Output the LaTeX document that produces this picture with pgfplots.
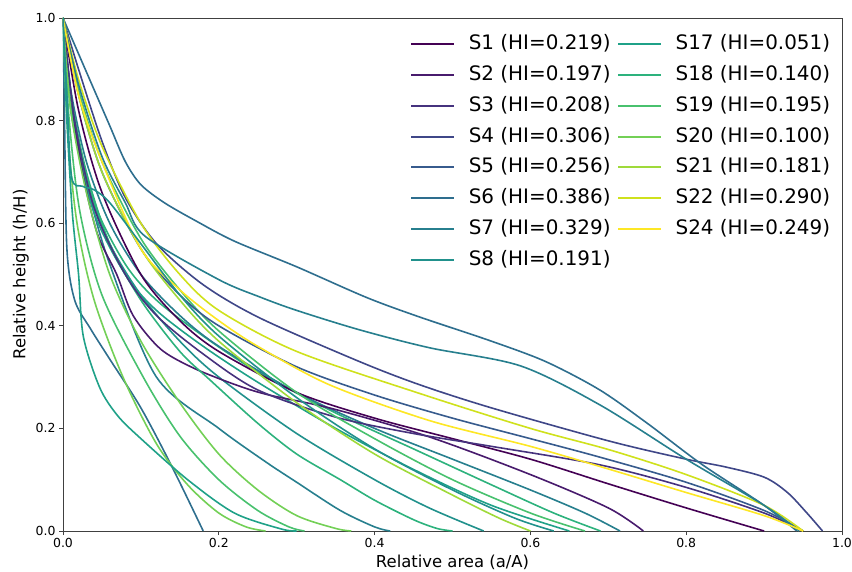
\documentclass[border=0pt]{standalone}
\usepackage{fontspec}
\setmainfont{DejaVu Sans}
\usepackage{pgfplots}
\pgfplotsset{compat=1.18}
\definecolor{c1}{HTML}{440154}
\definecolor{c2}{HTML}{481B6D}
\definecolor{c3}{HTML}{46327E}
\definecolor{c4}{HTML}{3F4788}
\definecolor{c5}{HTML}{375B8D}
\definecolor{c6}{HTML}{2E6E8E}
\definecolor{c7}{HTML}{277F8E}
\definecolor{c8}{HTML}{21918C}
\definecolor{c17}{HTML}{1FA188}
\definecolor{c18}{HTML}{2DB27D}
\definecolor{c19}{HTML}{48C16E}
\definecolor{c20}{HTML}{73D056}
\definecolor{c21}{HTML}{9FDA3A}
\definecolor{c22}{HTML}{CFE11C}
\definecolor{c24}{HTML}{FDE725}
\begin{document}
\begin{tikzpicture}
\begin{axis}[
  at={(0,0)}, anchor=south west,
  scale only axis, width=779bp, height=513bp,
  xmin=0, xmax=1, ymin=0, ymax=1,
  xtick={0,0.2,0.4,0.6,0.8,1.0}, ytick={0,0.2,0.4,0.6,0.8,1.0},
  tick pos=left, tick align=outside, major tick length=4bp,
  /pgf/number format/assume math mode=true,
  xticklabel style={/pgf/number format/fixed,/pgf/number format/fixed zerofill,/pgf/number format/precision=1},
  yticklabel style={/pgf/number format/fixed,/pgf/number format/fixed zerofill,/pgf/number format/precision=1},
  ticklabel style={font=\fontsize{12.5}{15}\selectfont},
  label style={font=\fontsize{16.5}{20}\selectfont},
  xlabel={Relative area (a/A)}, ylabel={Relative height (h/H)},
  axis line style={draw=black!75, line width=0.8bp},
  every tick/.style={black!75, line width=0.8bp},
  legend columns=2,
  legend cell align=left,
  legend style={draw=none, fill=none, at={(0.985,0.967)}, anchor=north east,
    font=\fontsize{20}{24}\selectfont, inner sep=0pt,
    nodes={inner sep=0bp, text height=14.5bp, text depth=3.5bp},
    column sep=15bp, row sep=12.8bp,
    /tikz/every even column/.append style={column sep=7bp}},
  legend image code/.code={\fill[#1, draw=none] (0bp,-1bp) rectangle (43bp,1bp);},
  every axis plot/.append style={line width=1.6bp, smooth, tension=0.5},
]
% unlabeled curves
\addplot[c6, forget plot] coordinates {(0,1)(0.002,0.8)(0.005,0.55)(0.015,0.45)(0.035,0.395)(0.06,0.335)(0.1,0.24)(0.14,0.125)(0.18,0)};
\addplot[c20, forget plot] coordinates {(0,1)(0.006,0.78)(0.018,0.6)(0.04,0.45)(0.077,0.3)(0.12,0.17)(0.16,0.09)(0.2,0.035)(0.235,0.008)(0.26,0)};
\addplot[c19, forget plot] coordinates {(0,1)(0.008,0.8)(0.022,0.62)(0.05,0.46)(0.103,0.3)(0.15,0.185)(0.2,0.1)(0.25,0.04)(0.29,0.008)(0.31,0)};
\addplot[c7, forget plot] coordinates {(0,1)(0.01,0.85)(0.03,0.68)(0.06,0.52)(0.12,0.3)(0.2,0.2)(0.26,0.135)(0.3,0.095)(0.356,0.04)(0.4,0.008)(0.42,0)};
\addplot[c8, forget plot] coordinates {(0,1)(0.01,0.82)(0.03,0.68)(0.06,0.56)(0.1,0.46)(0.15,0.37)(0.2,0.3)(0.3,0.19)(0.4,0.1)(0.47,0.045)(0.54,0)};
\addplot[c17, forget plot] coordinates {(0,1)(0.015,0.78)(0.04,0.62)(0.08,0.5)(0.12,0.43)(0.18,0.36)(0.25,0.29)(0.35,0.2)(0.45,0.12)(0.55,0.05)(0.65,0)};
\addplot[c18, forget plot] coordinates {(0,1)(0.015,0.8)(0.04,0.64)(0.08,0.52)(0.12,0.45)(0.18,0.38)(0.25,0.31)(0.35,0.23)(0.45,0.16)(0.55,0.09)(0.63,0.035)(0.69,0)};
\addplot[c7, forget plot] coordinates {(0,1)(0.01,0.86)(0.03,0.72)(0.06,0.6)(0.1,0.5)(0.15,0.42)(0.2,0.36)(0.3,0.27)(0.4,0.2)(0.5,0.14)(0.6,0.08)(0.67,0.035)(0.715,0)};
% labeled curves (legend order row-wise)
\addplot[c1] coordinates {(0,1)(0.02,0.82)(0.05,0.66)(0.1,0.5)(0.15,0.41)(0.2,0.35)(0.3,0.27)(0.4,0.22)(0.5,0.18)(0.6,0.14)(0.7,0.092)(0.8,0.045)(0.9,0)};
\addlegendentry{S1 (HI=0.219)}
\addplot[c17] coordinates {(0,1)(0.005,0.8)(0.012,0.62)(0.02,0.5)(0.026,0.38)(0.047,0.28)(0.07,0.225)(0.1,0.18)(0.16,0.1)(0.22,0.035)(0.28,0.004)(0.3,0)};
\addlegendentry{S17 (HI=0.051)}
\addplot[c2] coordinates {(0,1)(0.01,0.85)(0.025,0.7)(0.044,0.58)(0.069,0.5)(0.09,0.42)(0.125,0.355)(0.167,0.318)(0.218,0.287)(0.262,0.266)(0.347,0.238)(0.471,0.183)(0.6,0.11)(0.7,0.045)(0.745,0)};
\addlegendentry{S2 (HI=0.197)}
\addplot[c18] coordinates {(0,1)(0.01,0.85)(0.03,0.7)(0.06,0.56)(0.1,0.45)(0.15,0.35)(0.189,0.294)(0.25,0.21)(0.3,0.15)(0.356,0.1)(0.4,0.06)(0.45,0.022)(0.48,0.005)(0.5,0)};
\addlegendentry{S18 (HI=0.140)}
\addplot[c3] coordinates {(0,1)(0.015,0.8)(0.04,0.63)(0.08,0.5)(0.12,0.42)(0.18,0.345)(0.25,0.275)(0.35,0.222)(0.45,0.19)(0.55,0.165)(0.689,0.129)(0.8,0.085)(0.9,0.035)(0.95,0)};
\addlegendentry{S3 (HI=0.208)}
\addplot[c19] coordinates {(0,1)(0.02,0.86)(0.05,0.72)(0.1,0.57)(0.15,0.47)(0.2,0.39)(0.3,0.27)(0.4,0.18)(0.5,0.1)(0.6,0.035)(0.67,0)};
\addlegendentry{S19 (HI=0.195)}
\addplot[c4] coordinates {(0,1)(0.02,0.9)(0.05,0.76)(0.08,0.65)(0.12,0.56)(0.18,0.48)(0.253,0.415)(0.381,0.33)(0.458,0.285)(0.55,0.24)(0.702,0.175)(0.8,0.14)(0.85,0.125)(0.9,0.105)(0.93,0.075)(0.955,0.035)(0.975,0)};
\addlegendentry{S4 (HI=0.306)}
\addplot[c20] coordinates {(0,1)(0.01,0.82)(0.03,0.66)(0.06,0.5)(0.1,0.37)(0.15,0.25)(0.2,0.15)(0.25,0.08)(0.3,0.03)(0.35,0.005)(0.37,0)};
\addlegendentry{S20 (HI=0.100)}
\addplot[c5] coordinates {(0,1)(0.02,0.85)(0.05,0.7)(0.1,0.55)(0.15,0.46)(0.2,0.4)(0.3,0.32)(0.4,0.265)(0.5,0.22)(0.6,0.18)(0.689,0.144)(0.8,0.095)(0.9,0.04)(0.95,0)};
\addlegendentry{S5 (HI=0.256)}
\addplot[c21] coordinates {(0,1)(0.02,0.85)(0.05,0.7)(0.1,0.55)(0.15,0.45)(0.2,0.37)(0.3,0.25)(0.4,0.15)(0.5,0.07)(0.56,0.025)(0.6,0)};
\addlegendentry{S21 (HI=0.181)}
\addplot[c6] coordinates {(0,1)(0.03,0.895)(0.06,0.79)(0.08,0.72)(0.1,0.675)(0.13,0.64)(0.17,0.605)(0.22,0.565)(0.3,0.515)(0.39,0.455)(0.458,0.417)(0.55,0.37)(0.62,0.33)(0.689,0.275)(0.75,0.21)(0.82,0.13)(0.9,0.05)(0.942,0)};
\addlegendentry{S6 (HI=0.386)}
\addplot[c22] coordinates {(0,1)(0.02,0.88)(0.05,0.75)(0.1,0.6)(0.15,0.5)(0.2,0.43)(0.3,0.35)(0.458,0.268)(0.6,0.2)(0.702,0.158)(0.8,0.11)(0.9,0.05)(0.95,0)};
\addlegendentry{S22 (HI=0.290)}
\addplot[c7] coordinates {(0,1)(0.02,0.87)(0.05,0.73)(0.08,0.64)(0.105,0.575)(0.2,0.49)(0.253,0.456)(0.3,0.43)(0.381,0.392)(0.471,0.357)(0.587,0.322)(0.689,0.246)(0.8,0.14)(0.9,0.05)(0.945,0)};
\addlegendentry{S7 (HI=0.329)}
\addplot[c24] coordinates {(0,1)(0.02,0.85)(0.05,0.72)(0.1,0.55)(0.15,0.47)(0.2,0.41)(0.25,0.36)(0.342,0.285)(0.471,0.215)(0.6,0.165)(0.702,0.12)(0.8,0.075)(0.9,0.03)(0.95,0)};
\addlegendentry{S24 (HI=0.249)}
\addplot[c8] coordinates {(0,1)(0.005,0.85)(0.011,0.69)(0.025,0.672)(0.04,0.665)(0.06,0.64)(0.1,0.56)(0.15,0.46)(0.2,0.38)(0.3,0.26)(0.4,0.16)(0.5,0.08)(0.58,0.025)(0.63,0)};
\addlegendentry{S8 (HI=0.191)}
\end{axis}
\pgfresetboundingbox
\path[use as bounding box] (-63bp,-41bp) rectangle (789bp,531bp);
\end{tikzpicture}
\end{document}
